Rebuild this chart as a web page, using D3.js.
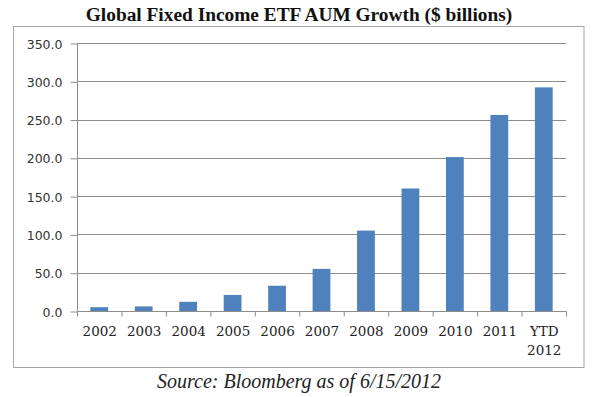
<!DOCTYPE html>
<html><head><meta charset="utf-8">
<script src="https://cdn.jsdelivr.net/npm/d3@7"></script>
<style>body{margin:0;background:#fff}svg{display:block}</style>
</head><body>
<svg id="c" width="600" height="397"></svg>
<script>
const categories = ["2002","2003","2004","2005","2006","2007","2008","2009","2010","2011","YTD 2012"];
const values = [5, 6, 12, 21, 33, 55, 105, 160, 201, 256, 292];
const yTicks = [0, 50, 100, 150, 200, 250, 300, 350];
const title = "Global Fixed Income ETF AUM Growth ($ billions)";
const source = "Source: Bloomberg as of 6/15/2012";

const svg = d3.select("#c");
const L = 77, R = 566, T = 43, B = 311;

svg.append("rect").attr("x",13.5).attr("y",26.5).attr("width",570.5).attr("height",341)
  .attr("fill","#fff").attr("stroke","#a6a6a6").attr("stroke-width",1);

const x = d3.scaleBand().domain(categories).range([L, R]).padding(0);
const y = d3.scaleLinear().domain([0, 350]).range([B, T]);

// gridlines
svg.append("g").selectAll("line").data(yTicks.filter(d=>d>0)).join("line")
  .attr("x1", L).attr("x2", R)
  .attr("y1", d=>Math.round(y(d))+0.5).attr("y2", d=>Math.round(y(d))+0.5)
  .attr("stroke","#8c8c8c").attr("stroke-width",1);

// bars
svg.append("g").selectAll("rect").data(values).join("rect")
  .attr("x",(d,i)=>x(categories[i]) + x.bandwidth()*0.3)
  .attr("width", x.bandwidth()*0.4)
  .attr("y", d=>y(d)).attr("height", d=>y(0)-y(d))
  .attr("fill","#4f81bd");

// y axis
const ya = d3.axisLeft(y).tickValues(yTicks).tickFormat(d3.format(".1f")).tickSize(7).tickPadding(8);
const gy = svg.append("g").attr("transform",`translate(${L+0.5},0.5)`).call(ya);
gy.select(".domain").attr("stroke","#8c8c8c").attr("d",`M0,${T}V${B}`);
gy.selectAll(".tick line").attr("stroke","#8c8c8c");
gy.selectAll(".tick text").attr("font-family","DejaVu Sans").attr("font-size","12.5px").attr("fill","#333").attr("dy","0.36em");

// x axis
const gx = svg.append("g").attr("transform",`translate(0.5,${B+0.5})`);
gx.append("line").attr("x1",L).attr("x2",R).attr("stroke","#8c8c8c");
const bounds = categories.map(c=>x(c)).concat([R]);
gx.selectAll(".tk").data(bounds).join("line").attr("class","tk")
  .attr("x1",d=>d).attr("x2",d=>d).attr("y1",0).attr("y2",5).attr("stroke","#8c8c8c");
const lbl = gx.selectAll("text").data(categories).join("text")
  .attr("x", d=>x(d)+x.bandwidth()/2).attr("y", 24)
  .attr("text-anchor","middle").attr("font-family","DejaVu Serif").attr("font-size","13.5px").attr("fill","#222");
lbl.each(function(d){
  const parts = d.split(" ");
  const t = d3.select(this);
  parts.forEach((p,i)=>t.append("tspan").attr("x", x(d)+x.bandwidth()/2).attr("dy", i===0?0:19).text(p));
});

// title
const tt = svg.append("text").attr("x",299).attr("y",21).attr("text-anchor","middle")
  .attr("font-family","Liberation Serif").attr("font-weight","bold").attr("font-size","16px").attr("fill","#111").text(title);
const w = tt.node().getComputedTextLength();
tt.attr("font-size", (16*427/w).toFixed(2)+"px");

// source
const st = svg.append("text").attr("x",299).attr("y",388).attr("text-anchor","middle")
  .attr("font-family","Liberation Serif").attr("font-style","italic").attr("font-size","15px").attr("fill","#222").text(source);
const ws = st.node().getComputedTextLength();
st.attr("font-size", (15*284/ws).toFixed(2)+"px");
</script>
</body></html>
